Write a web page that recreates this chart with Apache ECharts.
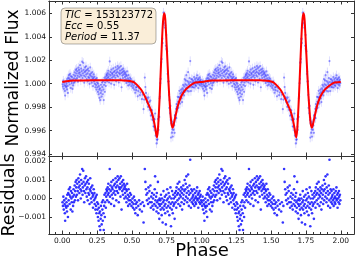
<!DOCTYPE html>
<html><head><meta charset="utf-8">
<script src="https://cdn.jsdelivr.net/npm/echarts@6/dist/echarts.min.js"></script>
<style>html,body{margin:0;padding:0;background:#fff}#c{width:356px;height:263px}</style>
</head><body><div id="c"></div>
<script>
// ---- data ----
const ticId = '153123772';
const eccText = '0.55';
const periodText = '11.37';

// fitted model over one orbital cycle (phase, normalized flux)
const modelPhase = [0.00,0.03,0.08,0.15,0.30,0.42,0.47,0.50,0.52,0.54,0.566,0.59,0.614,0.635,0.650,0.665,0.674,0.681,0.688,0.694,0.700,0.707,0.714,0.720,0.726,0.733,0.740,0.746,0.753,0.760,0.768,0.775,0.781,0.786,0.793,0.799,0.805,0.818,0.829,0.85,0.877,0.91,0.948,0.98,1.00];
const modelFlux  = [1.00014,1.0002,1.00026,1.00028,1.00030,1.00030,1.00025,1.00018,1.00008,0.99985,0.9995,0.9990,0.99837,0.9978,0.99724,0.9964,0.99575,0.99541,0.9962,0.9975,0.9990,1.0010,1.0030,1.0046,1.0056,1.0060,1.0055,1.0042,1.0025,1.0008,0.9990,0.9978,0.9969,0.99645,0.99625,0.99645,0.9968,0.9975,0.99808,0.9988,0.99936,0.99975,1.00007,1.00013,1.00014];

// residuals over one cycle: [phase, residual x 1e4]
const residualPts = [
[0.002,-2],[0.005,-4],[0.008,1],[0.011,-6],[0.014,-1],[0.017,-3],[0.019,-8],[0.021,-12],[0.024,-4],[0.027,0],[0.029,-5],
[0.031,-2],[0.034,-7],[0.036,2],[0.039,-4],[0.041,-10],[0.043,3],[0.046,-1],[0.048,5],[0.051,2],[0.053,-3],[0.056,6],[0.058,1],
[0.061,-6],[0.063,4],[0.066,0],[0.068,-2],[0.071,3],[0.073,-7],[0.076,1],[0.078,-4],[0.081,5],[0.083,-2],[0.086,2],[0.089,7],
[0.091,-1],[0.093,4],[0.096,9],[0.098,1],[0.101,6],[0.103,10],[0.106,2],[0.108,8],[0.111,4],[0.113,-1],[0.116,11],[0.118,6],
[0.121,9],[0.123,3],[0.126,7],[0.128,13],[0.131,5],[0.133,0],[0.136,10],[0.138,4],[0.141,8],[0.143,16],[0.146,2],[0.148,6],
[0.151,15],[0.153,9],[0.156,4],[0.158,-2],[0.161,7],[0.163,11],[0.166,3],[0.168,8],[0.171,12],[0.173,5],[0.176,1],[0.178,9],
[0.181,6],[0.183,-1],[0.186,10],[0.188,3],[0.191,8],[0.193,2],[0.196,-3],[0.198,5],[0.201,11],[0.203,4],[0.206,0],[0.208,6],
[0.211,-2],[0.213,3],[0.216,7],[0.218,1],[0.221,-5],[0.223,2],[0.226,5],[0.228,-1],[0.231,3],[0.233,-3],[0.236,0],[0.238,-6],
[0.241,1],[0.243,-4],[0.246,-8],[0.248,2],[0.251,-2],[0.253,-6],[0.256,-10],[0.258,-3],[0.261,-12],[0.263,-5],[0.266,-8],[0.268,-15],
[0.271,-7],[0.273,-17],[0.276,-11],[0.278,-4],[0.281,-9],[0.283,-14],[0.286,-2],[0.288,-6],[0.291,-12],[0.293,-1],[0.296,-8],[0.298,-17],
[0.301,-4],[0.303,2],[0.306,-10],[0.308,-2],[0.311,3],[0.313,-5],[0.316,1],[0.318,5],[0.321,4],[0.323,-1],[0.326,6],[0.328,2],
[0.331,8],[0.333,3],[0.336,-2],[0.338,5],[0.341,16],[0.343,1],[0.346,7],[0.348,4],[0.351,-3],[0.353,9],[0.356,2],[0.358,6],
[0.361,5],[0.363,0],[0.366,10],[0.368,3],[0.371,7],[0.373,-4],[0.376,4],[0.378,8],[0.381,2],[0.383,11],[0.386,6],[0.388,-1],
[0.391,9],[0.393,4],[0.396,7],[0.398,12],[0.401,3],[0.403,10],[0.406,-2],[0.408,6],[0.411,11],[0.413,5],[0.416,8],[0.418,1],
[0.421,12],[0.423,6],[0.426,-6],[0.428,9],[0.431,4],[0.433,7],[0.436,2],[0.438,10],[0.441,5],[0.443,8],[0.446,0],[0.448,6],
[0.451,3],[0.453,7],[0.456,1],[0.458,5],[0.461,-2],[0.463,4],[0.466,8],[0.468,0],[0.471,2],[0.473,-4],[0.476,5],[0.478,-1],
[0.481,1],[0.484,-3],[0.487,3],[0.491,-1],[0.494,2],[0.497,-4],[0.502,-2],[0.505,0],[0.508,-5],[0.512,-3],[0.515,1],[0.518,-6],
[0.522,-1],[0.525,-8],[0.528,-3],[0.532,-5],[0.536,-2],[0.542,-9],[0.546,-4],[0.552,-1],[0.557,-6],[0.563,-3],[0.572,-7],[0.577,-2],
[0.584,-13],[0.588,-4],[0.593,16],[0.597,9],[0.601,5],[0.604,2],[0.608,-1],[0.612,3],[0.616,-3],[0.619,6],[0.622,0],[0.626,4],[0.629,-2],
[0.633,7],[0.636,-5],[0.639,1],[0.642,-2],[0.645,3],[0.648,-4],[0.652,0],[0.655,-6],[0.658,2],[0.661,-3],[0.664,5],[0.667,12],[0.669,-1],
[0.671,-4],[0.674,1],[0.677,-7],[0.679,3],[0.681,-2],[0.684,-5],[0.687,9],[0.689,-1],[0.691,-8],[0.694,-3],[0.697,-11],[0.699,0],
[0.701,-4],[0.704,-1],[0.707,-6],[0.709,2],[0.711,-3],[0.714,-9],[0.717,0],[0.719,-5],[0.721,-13],[0.724,-2],[0.727,4],[0.729,-6],
[0.731,-1],[0.734,-4],[0.737,1],[0.739,-8],[0.741,-3],[0.744,-14],[0.747,2],[0.749,-5],[0.751,-1],[0.754,5],[0.757,-7],[0.759,0],
[0.761,-4],[0.764,3],[0.767,-2],[0.769,-9],[0.771,1],[0.774,-5],[0.777,6],[0.779,-3],[0.781,-15],[0.784,0],[0.787,-6],[0.789,4],
[0.791,-2],[0.794,-8],[0.797,2],[0.799,-4],[0.801,0],[0.804,-3],[0.807,-11],[0.809,3],[0.811,1],[0.814,-2],[0.817,4],[0.819,-5],
[0.821,6],[0.824,2],[0.827,-1],[0.829,8],[0.831,3],[0.834,-3],[0.837,5],[0.839,0],[0.841,9],[0.844,2],[0.847,-4],[0.849,4],
[0.851,1],[0.854,6],[0.857,-2],[0.859,3],[0.861,-6],[0.864,5],[0.867,0],[0.869,7],[0.871,2],[0.874,-3],[0.877,4],[0.879,10],
[0.881,-1],[0.884,5],[0.887,8],[0.889,1],[0.891,12],[0.894,3],[0.897,-2],[0.899,6],[0.901,0],[0.904,13],[0.907,4],[0.909,-4],
[0.911,2],[0.914,7],[0.917,-1],[0.919,21],[0.921,3],[0.924,-5],[0.927,5],[0.929,0],[0.931,-2],[0.934,4],[0.937,1],[0.939,-3],
[0.941,2],[0.944,-1],[0.947,5],[0.949,-4],[0.951,0],[0.954,3],[0.957,-2],[0.959,1],[0.961,-3],[0.964,4],[0.967,0],[0.969,6],
[0.971,-1],[0.974,2],[0.977,-5],[0.979,3],[0.981,0],[0.984,-2],[0.987,4],[0.989,1],[0.991,-3],[0.994,2],[0.997,-1]
];
const fluxErr = 0.0004;

const xTicks = [0,0.25,0.5,0.75,1,1.25,1.5,1.75,2];
const yTicksFlux = [0.994,0.996,0.998,1.000,1.002,1.004,1.006];
const yTicksResid = [-0.001,0,0.001,0.002];

// ---- build ----
function modelAt(p){
  for (let i=1;i<modelPhase.length;i++){
    if (p<=modelPhase[i]){
      const t=(p-modelPhase[i-1])/(modelPhase[i]-modelPhase[i-1]);
      return modelFlux[i-1]+t*(modelFlux[i]-modelFlux[i-1]);
    }
  }
  return modelFlux[modelFlux.length-1];
}
const cycles=[0,1];
const resid=[], flux=[], modelLine=[];
cycles.forEach(k=>{
  residualPts.forEach(([p,r])=>{
    const res=r*1e-4;
    resid.push([p+k,res]);
    flux.push([p+k,modelAt(p)+res]);
  });
  modelPhase.forEach((p,i)=>{ if(!(k>0&&i===0)) modelLine.push([p+k,modelFlux[i]]); });
});

const FONT='DejaVu Sans';
const axisCol='#333';
const minorX=[]; for(let v=-0.05;v<=2.06;v+=0.05){ if(Math.abs(v/0.25-Math.round(v/0.25))>1e-6) minorX.push(+v.toFixed(2)); }

function xAx(grid,pos,labels,values,len){
  return {type:'value',gridIndex:grid,position:pos,min:-0.095,max:2.095,
    axisLine:{show:true,onZero:false,lineStyle:{color:axisCol,width:1}},
    axisTick:{show:true,inside:true,length:len,customValues:values,lineStyle:{color:axisCol,width:1}},
    axisLabel:{show:labels,customValues:values,fontFamily:FONT,fontSize:7.5,color:'#111',margin:3,formatter:v=>v.toFixed(2)},
    splitLine:{show:false}};
}
function yAx(grid,pos,labels,values,min,max,fmt){
  return {type:'value',gridIndex:grid,position:pos,min:min,max:max,
    axisLine:{show:true,onZero:false,lineStyle:{color:axisCol,width:1}},
    axisTick:{show:true,inside:true,length:3,customValues:values,lineStyle:{color:axisCol,width:1}},
    axisLabel:{show:labels,customValues:values,fontFamily:FONT,fontSize:7.5,color:'#111',margin:3,formatter:fmt},
    splitLine:{show:false}};
}
const fmtFlux=v=>v.toFixed(3);
const fmtRes=v=>{const s=Math.abs(v)<1e-9?'0.000':v.toFixed(3);return s.replace('-','\u2212');};

const option={
  animation:false,
  grid:[{left:49,right:2,top:1,height:155},{left:49,right:2,top:156,height:78}],
  xAxis:[
    xAx(0,'bottom',false,xTicks,3.5), xAx(0,'top',false,xTicks,3.5),
    xAx(1,'bottom',true,xTicks,3.5), xAx(1,'top',false,xTicks,3.5),
    xAx(1,'bottom',false,minorX,2), xAx(0,'top',false,minorX,2)
  ],
  yAxis:[
    yAx(0,'left',true,yTicksFlux,0.99383,1.00705,fmtFlux),
    yAx(0,'right',false,yTicksFlux,0.99383,1.00705,fmtFlux),
    yAx(1,'left',true,yTicksResid,-0.00192,0.0023,fmtRes),
    yAx(1,'right',false,yTicksResid,-0.00192,0.0023,fmtRes)
  ],
  series:[
    {type:'custom',xAxisIndex:0,yAxisIndex:0,clip:true,data:flux,z:1,
      renderItem:(params,api)=>{
        const x=api.value(0), y=api.value(1);
        const a=api.coord([x,y-fluxErr]), b=api.coord([x,y+fluxErr]);
        return {type:'line',shape:{x1:a[0],y1:a[1],x2:b[0],y2:b[1]},style:{stroke:'rgba(110,110,255,0.22)',lineWidth:1}};
      }},
    {type:'scatter',xAxisIndex:0,yAxisIndex:0,data:flux,symbolSize:2.2,z:2,
      itemStyle:{color:'rgba(20,20,255,0.55)'}},
    {type:'line',xAxisIndex:0,yAxisIndex:0,data:modelLine,showSymbol:false,smooth:0.2,z:3,
      lineStyle:{color:'#ff0000',width:2}},
    {type:'scatter',xAxisIndex:2,yAxisIndex:2,data:resid,symbolSize:2.6,
      itemStyle:{color:'#0000ff'}}
  ],
  graphic:[
    {type:'rect',z:10,shape:{x:61,y:8,width:95,height:36,r:4},
      style:{fill:'rgba(245,222,179,0.5)',stroke:'rgba(0,0,0,0.3)',lineWidth:1}},
    {type:'text',z:11,x:65,y:9.5,style:{
      text:'{i|TIC} = '+ticId+'\n{i|Ecc} = '+eccText+'\n{i|Period} = '+periodText,
      fontFamily:FONT,fontSize:10,lineHeight:11,fill:'#000',
      rich:{i:{fontStyle:'italic',fontFamily:FONT,fontSize:10,lineHeight:11}}}},
    {type:'text',x:14,y:78,rotation:Math.PI/2,style:{text:'Normalized Flux',fontFamily:FONT,fontSize:17,fill:'#000',align:'center',verticalAlign:'middle'}},
    {type:'text',x:9,y:195,rotation:Math.PI/2,style:{text:'Residuals',fontFamily:FONT,fontSize:17.5,fill:'#000',align:'center',verticalAlign:'middle'}},
    {type:'text',x:202,y:251,style:{text:'Phase',fontFamily:FONT,fontSize:18,fill:'#000',align:'center',verticalAlign:'middle'}}
  ]
};
echarts.init(document.getElementById('c'),null,{renderer:'canvas'}).setOption(option);
</script></body></html>
